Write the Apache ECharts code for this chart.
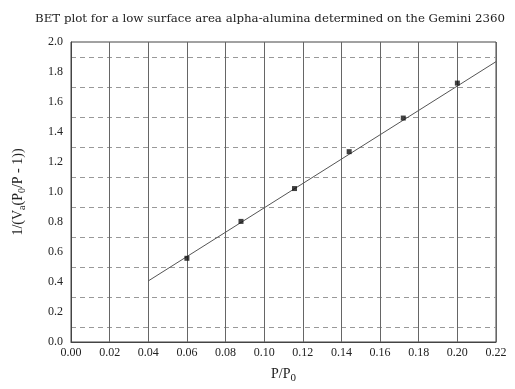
<!DOCTYPE html>
<html><head><meta charset="utf-8">
<script src="https://cdn.jsdelivr.net/npm/echarts@6/dist/echarts.min.js"></script>
<style>html,body{margin:0;padding:0;background:#fff}#c{width:515px;height:389px}</style>
</head><body><div id="c"></div>
<script>
const titleText = 'BET plot for a low surface area alpha-alumina determined on the Gemini 2360';
const pressureX = [0.060, 0.088, 0.1157, 0.144, 0.172, 0.200];
const betY = [0.558, 0.804, 1.023, 1.269, 1.493, 1.726];
const fitX = [0.04, 0.22];
const fitY = [0.407, 1.869];
const xTicks = ['0.00','0.02','0.04','0.06','0.08','0.10','0.12','0.14','0.16','0.18','0.20','0.22'];
const yTicks = ['0.0','0.2','0.4','0.6','0.8','1.0','1.2','1.4','1.6','1.8','2.0'];

const font = 'Liberation Serif';
const chart = echarts.init(document.getElementById('c'));
chart.setOption({
  animation: false,
  backgroundColor: '#fff',
  title: {text: titleText, left: 30, top: 8,
    textStyle: {fontFamily: 'DejaVu Serif', fontSize: 11.8, fontWeight: 'normal', color: '#222'}},
  grid: {left: 71, right: 19, top: 42, bottom: 46, show: true, borderColor: '#444', borderWidth: 1},
  xAxis: {type: 'value', min: 0, max: 0.22, interval: 0.02,
    name: 'P/P{s|0}', nameLocation: 'middle', nameGap: 22,
    nameTextStyle: {fontFamily: font, fontSize: 14, color: '#222',
      rich: {s: {fontFamily: font, fontSize: 11, color: '#222', verticalAlign: 'bottom', padding: [9,0,0,0]}}},
    axisLine: {lineStyle: {color: '#444'}}, axisTick: {show: false},
    axisLabel: {fontFamily: font, fontSize: 12, color: '#222', margin: 5,
      formatter: v => xTicks[Math.round(v / 0.02)]},
    splitLine: {show: true, lineStyle: {color: '#666', width: 1}}},
  yAxis: {type: 'value', min: 0, max: 2, interval: 0.2,
    name: '1/(V{s|a}(P{s|0}/P - 1))', nameLocation: 'middle', nameGap: 44,
    nameTextStyle: {fontFamily: font, fontSize: 14, color: '#222',
      rich: {s: {fontFamily: font, fontSize: 10, color: '#222', padding: [7,0,0,0]}}},
    axisLine: {show: true, lineStyle: {color: '#444'}}, axisTick: {show: false},
    axisLabel: {fontFamily: font, fontSize: 12, color: '#222', margin: 8,
      formatter: v => yTicks[Math.round(v / 0.2)]},
    splitLine: {show: false},
    minorTick: {show: false, splitNumber: 2},
    minorSplitLine: {show: true, lineStyle: {color: '#999', type: [5,4], width: 1}}},
  series: [
    {type: 'line', data: fitX.map((x, i) => [x, fitY[i]]), symbol: 'none',
      lineStyle: {color: '#555', width: 1}, z: 2},
    {type: 'scatter', data: pressureX.map((x, i) => [x, betY[i]]), symbol: 'rect', symbolSize: 5,
      itemStyle: {color: '#111'}, z: 3}
  ]
});
</script></body></html>
